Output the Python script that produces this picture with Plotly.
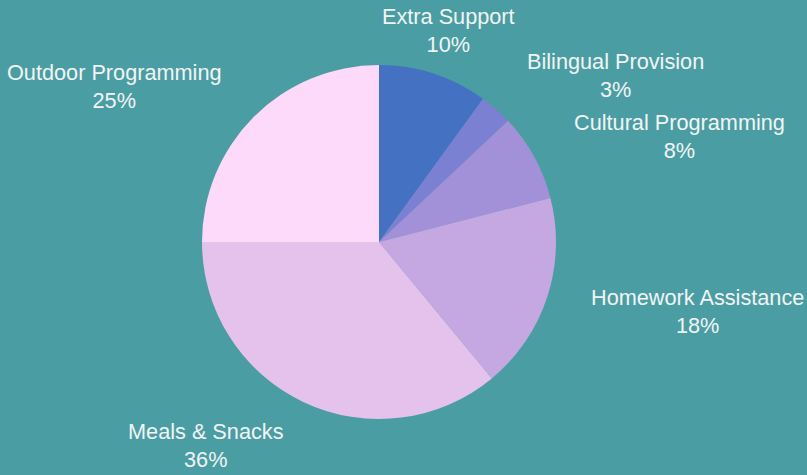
import plotly.graph_objects as go

# Spending breakdown by programme area (percent of total)
categories = [
    "Extra Support",
    "Bilingual Provision",
    "Cultural Programming",
    "Homework Assistance",
    "Meals & Snacks",
    "Outdoor Programming",
]
shares = [10, 3, 8, 18, 36, 25]

slice_colors = ["#4571c2", "#7c80d2", "#a291d9", "#c5a7e1", "#e4c2eb", "#fedafa"]

W, H = 807, 475
BG = "#4a9ea3"

# pie geometry in pixels
cx, cy, r = 379, 242, 177

# label anchor points (pixel centres of each two-line label)
label_pos = [
    (448, 31),
    (615, 75),
    (679, 136),
    (697, 311),
    (206, 445),
    (114, 86),
]

fig = go.Figure(
    go.Pie(
        labels=categories,
        values=shares,
        sort=False,
        direction="clockwise",
        rotation=0,
        marker=dict(colors=slice_colors, line=dict(width=0)),
        textinfo="none",
        hoverinfo="label+percent",
        showlegend=False,
        domain=dict(
            x=[(cx - r) / W, (cx + r) / W],
            y=[1 - (cy + r) / H, 1 - (cy - r) / H],
        ),
    )
)

annotations = []
for name, val, (px, py) in zip(categories, shares, label_pos):
    annotations.append(
        dict(
            text=f"{name}<br>{val}%",
            x=px / W,
            y=1 - py / H,
            xref="paper",
            yref="paper",
            xanchor="center",
            yanchor="middle",
            showarrow=False,
            align="center",
            font=dict(family="Liberation Sans, Arial, sans-serif", size=21.7, color="#f2f4f4"),
        )
    )

fig.update_layout(
    width=W,
    height=H,
    margin=dict(l=0, r=0, t=0, b=0),
    paper_bgcolor=BG,
    plot_bgcolor=BG,
    annotations=annotations,
)

fig.write_html("out.html")
